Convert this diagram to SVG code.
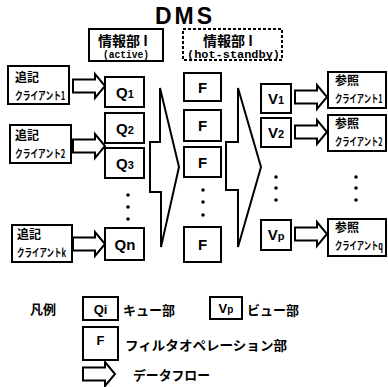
<svg xmlns="http://www.w3.org/2000/svg" width="388" height="387" viewBox="0 0 388 387">
<style>
.box{fill:#fff;stroke:#000;stroke-width:2}
.dash{fill:#fff;stroke:#000;stroke-width:2;stroke-dasharray:3,2}
.jp{font-family:"Noto Sans CJK JP","Liberation Sans",sans-serif;font-weight:bold;fill:#000}
.lat{font-family:"Liberation Sans","DejaVu Sans",sans-serif;font-weight:bold;fill:#000}
.mono{font-family:"Liberation Mono","DejaVu Sans Mono",monospace;font-weight:bold;fill:#000}
.lbl{font-family:"Liberation Sans","DejaVu Sans",sans-serif;font-weight:bold;fill:#000;text-anchor:middle}
.kt{font-family:"Noto Sans CJK JP","Liberation Sans",sans-serif;font-weight:bold;fill:#000;font-size:11px}
.flow{fill:#fff;stroke:#000;stroke-width:2;stroke-linejoin:miter}
.big{fill:#fff;stroke:#000;stroke-width:2;stroke-linejoin:miter}
.dot{fill:#000}
</style>
<defs>
<path id="arr" d="M0,-6.5 H22 V-12 L32,0 L22,12 V6.5 H0 Z"/>
</defs>
<rect width="388" height="387" fill="#fff"/>
<text class="lat" x="155" y="24" font-size="23" letter-spacing="3">DMS</text>

<g id="active">
<rect class="box" x="89" y="29" width="74" height="32"/>
<text class="jp" x="98" y="46" font-size="14">情報部 I</text>
<text class="mono" x="103" y="58" font-size="11" textLength="46" lengthAdjust="spacingAndGlyphs">(active)</text>
</g>
<g id="standby">
<rect class="dash" x="183" y="29" width="99" height="31"/>
<text class="jp" x="203" y="46" font-size="14">情報部 I</text>
<text class="mono" x="187" y="58" font-size="11" textLength="93" lengthAdjust="spacingAndGlyphs">(hot-standby)</text>
</g>

<g id="client1">
<rect class="box" x="8" y="66" width="61" height="38"/>
<text class="jp" x="15" y="82" font-size="12">追記</text>
<text class="kt" transform="translate(15,100) scale(0.7,1)">クライアント1</text>
</g>
<g id="client2">
<rect class="box" x="10" y="125" width="61" height="38"/>
<text class="jp" x="15" y="140" font-size="12">追記</text>
<text class="kt" transform="translate(15,158) scale(0.7,1)">クライアント2</text>
</g>
<g id="clientk">
<rect class="box" x="12" y="225" width="60" height="37"/>
<text class="jp" x="17" y="239" font-size="12">追記</text>
<text class="kt" transform="translate(17,257) scale(0.68,1)">クライアントk</text>
</g>

<g id="q1"><rect class="box" x="105" y="77" width="39" height="30"/><text class="lbl" x="125" y="98" font-size="15">Q<tspan font-size="11">1</tspan></text></g>
<g id="q2"><rect class="box" x="105" y="113" width="39" height="30"/><text class="lbl" x="125" y="134" font-size="15">Q<tspan font-size="11">2</tspan></text></g>
<g id="q3"><rect class="box" x="105" y="148" width="39" height="30"/><text class="lbl" x="125" y="169" font-size="15">Q<tspan font-size="11">3</tspan></text></g>
<g id="qdots"><circle class="dot" cx="128" cy="195" r="1.8"/><circle class="dot" cx="128" cy="207" r="1.8"/><circle class="dot" cx="128" cy="219" r="1.8"/></g>
<g id="qn"><rect class="box" x="105" y="228" width="39" height="32"/><text class="lbl" x="125" y="250" font-size="15">Qn</text></g>

<g id="f1"><rect class="box" x="184" y="73" width="37" height="28"/><text class="lbl" x="202.5" y="93" font-size="15">F</text></g>
<g id="f2"><rect class="box" x="184" y="110" width="37" height="31"/><text class="lbl" x="202.5" y="131" font-size="15">F</text></g>
<g id="f3"><rect class="box" x="184" y="147" width="37" height="30"/><text class="lbl" x="202.5" y="168" font-size="15">F</text></g>
<g id="fdots"><circle class="dot" cx="203" cy="190" r="1.8"/><circle class="dot" cx="203" cy="202" r="1.8"/><circle class="dot" cx="203" cy="215" r="1.8"/></g>
<g id="f4"><rect class="box" x="184" y="227" width="37" height="35"/><text class="lbl" x="202.5" y="250" font-size="15">F</text></g>

<g id="v1"><rect class="box" x="261" y="84" width="30" height="29"/><text class="lbl" x="276" y="104" font-size="15">V<tspan font-size="11">1</tspan></text></g>
<g id="v2"><rect class="box" x="261" y="118" width="30" height="29"/><text class="lbl" x="276" y="138" font-size="15">V<tspan font-size="11">2</tspan></text></g>
<g id="vdots"><circle class="dot" cx="276" cy="177" r="1.8"/><circle class="dot" cx="276" cy="188" r="1.8"/><circle class="dot" cx="276" cy="200" r="1.8"/></g>
<g id="vp"><rect class="box" x="261" y="220" width="30" height="30"/><text class="lbl" x="276" y="240" font-size="15">V<tspan font-size="11">p</tspan></text></g>

<g id="ref1">
<rect class="box" x="328" y="72" width="58" height="36"/>
<text class="jp" x="335" y="85" font-size="12">参照</text>
<text class="kt" transform="translate(335,103) scale(0.66,1)">クライアント1</text>
</g>
<g id="ref2">
<rect class="box" x="328" y="115" width="58" height="36"/>
<text class="jp" x="335" y="128" font-size="12">参照</text>
<text class="kt" transform="translate(335,146) scale(0.66,1)">クライアント2</text>
</g>
<g id="rdots"><circle class="dot" cx="356" cy="177" r="1.8"/><circle class="dot" cx="356" cy="188" r="1.8"/><circle class="dot" cx="356" cy="200" r="1.8"/></g>
<g id="refq">
<rect class="box" x="328" y="219" width="58" height="37"/>
<text class="jp" x="335" y="232" font-size="12">参照</text>
<text class="kt" transform="translate(335,250) scale(0.66,1)">クライアントq</text>
</g>

<g id="connectors">
<use href="#arr" class="flow" x="73" y="86"/>
<use href="#arr" class="flow" x="73" y="146"/>
<use href="#arr" class="flow" x="73" y="244"/>
<use href="#arr" class="flow" x="295" y="97"/>
<use href="#arr" class="flow" x="295" y="132"/>
<use href="#arr" class="flow" x="295" y="234"/>
<polygon class="big" points="160,88 179,167 161,247 161,192 150,192 150,142 160,142"/>
<polygon class="big" points="238,88 261,167 238,247 238,190 226,190 226,142 238,142"/>
</g>

<g id="legend">
<text class="jp" x="30" y="314" font-size="13">凡例</text>
<rect class="box" x="83" y="297" width="35" height="23"/>
<text class="lbl" x="100.5" y="314" font-size="13">Qi</text>
<text class="jp" x="123" y="315" font-size="13">キュー部</text>
<rect class="box" x="210" y="297" width="32" height="22"/>
<text class="lbl" x="226" y="313" font-size="13">V<tspan font-size="10">p</tspan></text>
<text class="jp" x="247" y="315" font-size="13">ビュー部</text>
<rect class="box" x="83" y="327" width="35" height="33"/>
<text class="lbl" x="100.5" y="345" font-size="13">F</text>
<text class="jp" x="125" y="350" font-size="13" textLength="162" lengthAdjust="spacingAndGlyphs">フィルタオペレーション部</text>
<use href="#arr" class="flow" x="83" y="374"/>
<text class="jp" x="133" y="380" font-size="13" textLength="77" lengthAdjust="spacingAndGlyphs">データフロー</text>
</g>
</svg>
